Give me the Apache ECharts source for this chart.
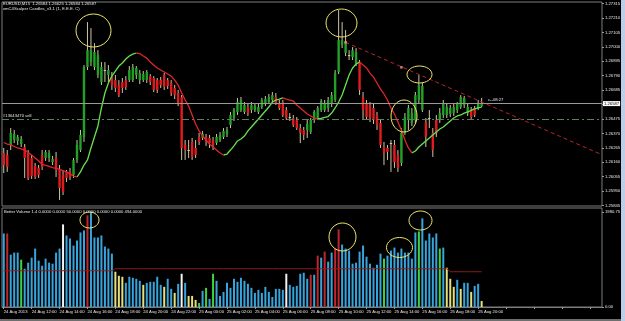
<!DOCTYPE html>
<html>
<head>
<meta charset="utf-8">
<title>EURUSD,M15</title>
<script src="https://cdn.jsdelivr.net/npm/echarts@6.0.0/dist/echarts.min.js"></script>
<style>
  html, body { margin: 0; padding: 0; background: #000; }
  #chart { width: 625px; height: 321px; }
</style>
</head>
<body>
<div id="chart"></div>
<script>
// 15 minute bars, 24 Aug 10:00 .. 25 Aug 20:15
const opens = [
  1.26228, 1.26213, 1.26286, 1.26322, 1.26315, 1.26293, 1.26271, 1.26228, 1.26191, 1.26133,
  1.26119, 1.26213, 1.26191, 1.26191, 1.26162, 1.26191, 1.26104, 1.26068, 1.26090, 1.26090,
  1.26068, 1.26177, 1.26249, 1.26344, 1.26853, 1.26889, 1.26853, 1.26795, 1.26744, 1.26831,
  1.26795, 1.26780, 1.26758, 1.26722, 1.26744, 1.26758, 1.26758, 1.26758, 1.26795, 1.26758,
  1.26758, 1.26758, 1.26787, 1.26773, 1.26758, 1.26758, 1.26795, 1.26758, 1.26737, 1.26700,
  1.26664, 1.26635, 1.26286, 1.26249, 1.26308, 1.26264, 1.26344, 1.26337, 1.26344, 1.26337,
  1.26322, 1.26300, 1.26322, 1.26344, 1.26366, 1.26431, 1.26482, 1.26526, 1.26540, 1.26526,
  1.26562, 1.26540, 1.26540, 1.26526, 1.26562, 1.26591, 1.26598, 1.26613, 1.26635, 1.26591,
  1.26598, 1.26540, 1.26489, 1.26482, 1.26468, 1.26409, 1.26395, 1.26395, 1.26380, 1.26468,
  1.26482, 1.26540, 1.26540, 1.26555, 1.26584, 1.26613, 1.26817, 1.27013, 1.26955, 1.26940,
  1.26926, 1.26882, 1.26882, 1.26635, 1.26591, 1.26577, 1.26555, 1.26504, 1.26446, 1.26271,
  1.26264, 1.26300, 1.26286, 1.26213, 1.26155, 1.26373, 1.26468, 1.26446, 1.26468, 1.26613,
  1.26540, 1.26453, 1.26482, 1.26373, 1.26468, 1.26468, 1.26504, 1.26504, 1.26511, 1.26518,
  1.26540, 1.26562, 1.26577, 1.26518, 1.26540, 1.26555, 1.26555, 1.26569
]
const highs = [
  1.26264, 1.26249, 1.26409, 1.26395, 1.26359, 1.26351, 1.26293, 1.26249, 1.26213, 1.26155,
  1.26140, 1.26249, 1.26249, 1.26249, 1.26206, 1.26235, 1.26140, 1.26104, 1.26104, 1.26119,
  1.26191, 1.26322, 1.26395, 1.26867, 1.27180, 1.27136, 1.27027, 1.26976, 1.26889, 1.26889,
  1.26867, 1.26817, 1.26795, 1.26758, 1.26773, 1.26787, 1.26860, 1.26875, 1.26860, 1.26831,
  1.26824, 1.26831, 1.26802, 1.26787, 1.26773, 1.26780, 1.26809, 1.26773, 1.26758, 1.26722,
  1.26686, 1.26649, 1.26322, 1.26322, 1.26337, 1.26322, 1.26373, 1.26388, 1.26366, 1.26359,
  1.26344, 1.26366, 1.26380, 1.26409, 1.26417, 1.26526, 1.26555, 1.26628, 1.26635, 1.26598,
  1.26584, 1.26598, 1.26591, 1.26584, 1.26628, 1.26642, 1.26657, 1.26671, 1.26664, 1.26613,
  1.26613, 1.26562, 1.26518, 1.26504, 1.26489, 1.26439, 1.26417, 1.26468, 1.26482, 1.26540,
  1.26569, 1.26620, 1.26613, 1.26635, 1.26671, 1.26831, 1.27267, 1.27180, 1.27122, 1.26976,
  1.26998, 1.26991, 1.26904, 1.26671, 1.26613, 1.26598, 1.26584, 1.26526, 1.26468, 1.26308,
  1.26286, 1.26322, 1.26322, 1.26249, 1.26409, 1.26518, 1.26577, 1.26555, 1.26671, 1.26795,
  1.26737, 1.26482, 1.26540, 1.26409, 1.26504, 1.26555, 1.26613, 1.26584, 1.26577, 1.26584,
  1.26598, 1.26649, 1.26642, 1.26584, 1.26562, 1.26569, 1.26613, 1.26628
]
const lows = [
  1.26082, 1.26090, 1.26249, 1.26300, 1.26286, 1.26271, 1.26046, 1.26031, 1.26039, 1.26039,
  1.26046, 1.26104, 1.26170, 1.26162, 1.26140, 1.26053, 1.25886, 1.25922, 1.26017, 1.26031,
  1.26046, 1.26155, 1.26235, 1.26308, 1.26831, 1.26860, 1.26831, 1.26773, 1.26722, 1.26744,
  1.26744, 1.26686, 1.26671, 1.26635, 1.26664, 1.26686, 1.26744, 1.26744, 1.26766, 1.26729,
  1.26744, 1.26737, 1.26722, 1.26671, 1.26664, 1.26700, 1.26686, 1.26693, 1.26642, 1.26620,
  1.26569, 1.26177, 1.26177, 1.26191, 1.26177, 1.26191, 1.26286, 1.26322, 1.26279, 1.26264,
  1.26249, 1.26286, 1.26308, 1.26329, 1.26344, 1.26409, 1.26460, 1.26504, 1.26526, 1.26511,
  1.26497, 1.26518, 1.26526, 1.26511, 1.26548, 1.26569, 1.26584, 1.26598, 1.26577, 1.26540,
  1.26489, 1.26468, 1.26460, 1.26417, 1.26395, 1.26300, 1.26322, 1.26337, 1.26366, 1.26446,
  1.26468, 1.26526, 1.26526, 1.26526, 1.26562, 1.26598, 1.26802, 1.26991, 1.26933, 1.26904,
  1.26904, 1.26860, 1.26649, 1.26468, 1.26468, 1.26453, 1.26439, 1.26395, 1.26264, 1.26140,
  1.26177, 1.26090, 1.26119, 1.26090, 1.26133, 1.26359, 1.26395, 1.26424, 1.26446, 1.26591,
  1.26526, 1.26271, 1.26409, 1.26199, 1.26344, 1.26446, 1.26482, 1.26482, 1.26489, 1.26497,
  1.26518, 1.26548, 1.26555, 1.26497, 1.26475, 1.26489, 1.26540, 1.26562
]
const closes = [
  1.26140, 1.26126, 1.26373, 1.26366, 1.26344, 1.26329, 1.26191, 1.26046, 1.26060, 1.26053,
  1.26068, 1.26126, 1.26235, 1.26228, 1.26184, 1.26104, 1.25973, 1.25944, 1.26046, 1.26053,
  1.26177, 1.26286, 1.26359, 1.26853, 1.26976, 1.26976, 1.26962, 1.26940, 1.26853, 1.26824,
  1.26831, 1.26722, 1.26700, 1.26649, 1.26700, 1.26708, 1.26831, 1.26853, 1.26846, 1.26809,
  1.26802, 1.26817, 1.26744, 1.26686, 1.26686, 1.26722, 1.26708, 1.26715, 1.26664, 1.26649,
  1.26591, 1.26264, 1.26249, 1.26242, 1.26199, 1.26213, 1.26308, 1.26366, 1.26308, 1.26300,
  1.26286, 1.26344, 1.26359, 1.26388, 1.26395, 1.26504, 1.26540, 1.26598, 1.26613, 1.26577,
  1.26518, 1.26577, 1.26569, 1.26562, 1.26613, 1.26620, 1.26635, 1.26649, 1.26591, 1.26555,
  1.26504, 1.26482, 1.26482, 1.26431, 1.26409, 1.26373, 1.26359, 1.26439, 1.26468, 1.26526,
  1.26555, 1.26606, 1.26584, 1.26613, 1.26649, 1.26809, 1.27049, 1.27049, 1.27035, 1.26933,
  1.26976, 1.26962, 1.26686, 1.26540, 1.26489, 1.26482, 1.26468, 1.26431, 1.26286, 1.26228,
  1.26235, 1.26293, 1.26162, 1.26119, 1.26373, 1.26489, 1.26555, 1.26518, 1.26649, 1.26722,
  1.26715, 1.26344, 1.26475, 1.26249, 1.26373, 1.26518, 1.26584, 1.26562, 1.26555, 1.26562,
  1.26584, 1.26635, 1.26628, 1.26562, 1.26489, 1.26504, 1.26591, 1.26587
]
// smoothed trend line of the scalper indicator
const trendLine = [
  1.26304, 1.26293, 1.26286, 1.26275, 1.26264, 1.26257, 1.26249, 1.26231, 1.26213, 1.26191,
  1.26170, 1.26144, 1.26137, 1.26130, 1.26122, 1.26115, 1.26108, 1.26100, 1.26090, 1.26075,
  1.26060, 1.26053, 1.26090, 1.26140, 1.26177, 1.26264, 1.26344, 1.26424, 1.26555, 1.26664,
  1.26737, 1.26787, 1.26824, 1.26860, 1.26882, 1.26911, 1.26933, 1.26947, 1.26955, 1.26951,
  1.26933, 1.26918, 1.26889, 1.26867, 1.26846, 1.26831, 1.26817, 1.26802, 1.26787, 1.26758,
  1.26722, 1.26664, 1.26613, 1.26569, 1.26504, 1.26439, 1.26388, 1.26351, 1.26322, 1.26293,
  1.26271, 1.26249, 1.26228, 1.26213, 1.26220, 1.26249, 1.26279, 1.26315, 1.26329, 1.26351,
  1.26388, 1.26417, 1.26446, 1.26475, 1.26504, 1.26533, 1.26562, 1.26598, 1.26613, 1.26620,
  1.26628, 1.26620, 1.26613, 1.26606, 1.26577, 1.26555, 1.26533, 1.26511, 1.26497, 1.26482,
  1.26475, 1.26479, 1.26486, 1.26493, 1.26518, 1.26555, 1.26598, 1.26649, 1.26722, 1.26795,
  1.26846, 1.26875, 1.26889, 1.26867, 1.26846, 1.26809, 1.26780, 1.26737, 1.26693, 1.26657,
  1.26613, 1.26555, 1.26511, 1.26453, 1.26395, 1.26322, 1.26264, 1.26228, 1.26242, 1.26271,
  1.26293, 1.26315, 1.26337, 1.26359, 1.26380, 1.26402, 1.26417, 1.26439, 1.26460, 1.26482,
  1.26497, 1.26504, 1.26518, 1.26526, 1.26537, 1.26548, 1.26555, 1.26562
]
const volumes = [
  1533, 1533, 1092, 1134, 1134, 987, 798, 924, 1029, 1218,
  966, 861, 1008, 924, 903, 1134, 1218, 1722, 1491, 1428,
  1281, 1386, 1554, 1596, 1911, 1974, 1449, 1449, 1491, 1260,
  1218, 1113, 735, 651, 630, 504, 630, 609, 588, 546,
  462, 504, 525, 525, 630, 462, 420, 588, 378, 294,
  483, 693, 504, 231, 231, 147, 84, 336, 399, 168,
  693, 546, 231, 315, 504, 399, 588, 525, 609, 546,
  483, 399, 294, 357, 294, 420, 315, 210, 378, 378,
  357, 693, 462, 420, 441, 693, 714, 588, 672, 672,
  1071, 1029, 1155, 945, 1134, 1218, 1617, 1302, 1218, 1176,
  903, 924, 1155, 1281, 1050, 903, 819, 882, 1113, 1008,
  1071, 1176, 1239, 1134, 1218, 1134, 1134, 1008, 1554, 1575,
  1848, 1386, 1533, 1449, 1533, 1218, 1239, 819, 588, 420,
  567, 378, 504, 504, 315, 441, 483, 126
]
// b = normal, r = climax, g = low volume churn, y = low volume, w = churn
const volumeKinds = [
  'b','r','b','b','b','g','b','b','b','b',
  'b','b','b','b','b','b','b','w','b','b',
  'b','b','b','b','r','b','b','b','b','b',
  'b','b','y','y','y','b','b','b','b','b',
  'y','b','b','b','b','b','y','b','b','y',
  'b','w','b','y','y','y','g','b','g','b',
  'g','b','b','b','b','b','b','b','b','b',
  'b','b','b','b','b','b','b','b','b','b',
  'b','w','b','b','b','b','b','b','r','b',
  'r','b','r','b','b','r','r','b','b','b',
  'b','b','b','b','b','b','b','b','b','g',
  'b','b','b','b','b','b','b','b','b','g',
  'b','b','b','b','b','g','b','y','y','y',
  'b','y','b','b','y','b','b','y'
]
const volumeAverage = [
  756, 756, 756, 756, 756, 756, 756, 756, 756, 756,
  756, 756, 756, 756, 756, 756, 756, 756, 756, 756,
  756, 756, 756, 756, 756, 756, 756, 756, 756, 756,
  756, 756, 798, 798, 798, 798, 798, 798, 798, 798,
  798, 798, 798, 798, 798, 798, 798, 798, 798, 798,
  798, 798, 798, 798, 798, 798, 798, 798, 798, 798,
  798, 798, 798, 798, 798, 798, 798, 798, 798, 798,
  798, 798, 798, 798, 798, 798, 798, 798, 798, 798,
  798, 798, 798, 798, 798, 798, 798, 798, 798, 798,
  798, 798, 798, 798, 798, 798, 798, 798, 798, 798,
  798, 798, 798, 798, 798, 798, 798, 798, 798, 798,
  798, 798, 798, 798, 798, 798, 798, 798, 798, 798,
  798, 798, 798, 798, 798, 798, 798, 798, 735, 735,
  735, 735, 735, 735, 735, 735, 735, 735
]
// one label every 8 bars (2 hours)
const timeLabels = [
  '24 Aug 2013', '24 Aug 12:00', '24 Aug 14:00', '24 Aug 16:00', '24 Aug 18:00',
  '24 Aug 20:00', '24 Aug 22:00', '25 Aug 00:00', '25 Aug 02:00', '25 Aug 04:00',
  '25 Aug 06:00', '25 Aug 08:00', '25 Aug 10:00', '25 Aug 12:00', '25 Aug 14:00',
  '25 Aug 16:00', '25 Aug 18:00', '25 Aug 20:00'
]
const priceTicks = [
  1.25845, 1.25950, 1.26055, 1.26160, 1.26265, 1.26370, 1.26475, 1.26580,
  1.26685, 1.26790, 1.26895, 1.27000, 1.27105, 1.27210, 1.27315
]
const volumeTicks = [0, 1980.75]
const bidPrice = 1.26587
const orderPrice = 1.26475
// [bar index, price] for the drawn resistance line and its anchors
const resistanceLine = [[98, 1.27033], [171, 1.26220]]
const resistanceAnchors = [[98, 1.27033], [114, 1.26851]]

const slots = 172 // bars plus the empty shift area on the right
const categories = Array.from({ length: slots }, (_, i) => i)

const kindColors = { b: '#38a4dc', r: '#c0262b', g: '#3fd23f', y: '#e6df7a', w: '#f2f2f2' }
const font = 'Liberation Sans'

const chart = echarts.init(document.getElementById('chart'))

const candleData = opens.map((o, i) => [i, o, closes[i], lows[i], highs[i]])

const renderCandle = (params, api) => {
    const i = api.value(0)
    const o = api.value(1), c = api.value(2)
    const po = api.coord([i, o])
    const pc = api.coord([i, c])
    const pl = api.coord([i, Math.min(api.value(3), o, c)])
    const ph = api.coord([i, Math.max(api.value(4), o, c)])
    const w = 2.4
    let fill = c >= o ? '#22a126' : '#e21b1e'
    if (Math.abs(c - o) < 0.00008) fill = '#d4d0b2'
    const top = Math.min(po[1], pc[1])
    const h = Math.max(Math.abs(po[1] - pc[1]), 1)
    return {
        type: 'group',
        children: [
            {
                type: 'line',
                shape: { x1: po[0], y1: ph[1], x2: po[0], y2: pl[1] },
                style: { stroke: '#cdc6a4', lineWidth: 1 }
            },
            {
                type: 'rect',
                shape: { x: po[0] - w / 2, y: top, width: w, height: h },
                style: { fill: fill }
            }
        ]
    }
}

// split the trend line into rising (green) and falling (red) pieces
const trendUp = trendLine.map(() => null)
const trendDown = trendLine.map(() => null)
for (let i = 1; i < trendLine.length; i++) {
    const target = trendLine[i] >= trendLine[i - 1] ? trendUp : trendDown
    target[i - 1] = trendLine[i - 1]
    target[i] = trendLine[i]
}

const volumeData = volumes.map((v, i) => ({
    value: v,
    itemStyle: { color: kindColors[volumeKinds[i]] }
}))

const ellipse = (cx, cy, rx, ry) => ({
    type: 'ellipse',
    shape: { cx: cx, cy: cy, rx: rx, ry: ry },
    style: { fill: 'none', stroke: '#efe66a', lineWidth: 1 },
    z: 100
})
const label = (x, y, text) => ({
    type: 'text',
    left: x,
    top: y,
    style: { text: text, fill: '#e6e6e6', font: '4.2px ' + font },
    z: 100
})

const options = {
    backgroundColor: '#000',
    animation: false,
    textStyle: { fontFamily: font },
    grid: [
        { left: 2, right: 23, top: 2, height: 204, show: true, borderColor: '#7d7d7d', borderWidth: 1, outerBoundsMode: 'none' },
        { left: 2, right: 23, top: 208, height: 99, show: true, borderColor: '#7d7d7d', borderWidth: 1, outerBoundsMode: 'none' }
    ],
    xAxis: [
        {
            type: 'category', gridIndex: 0, data: categories, boundaryGap: true,
            axisLine: { show: false }, axisTick: { show: false }, axisLabel: { show: false }, splitLine: { show: false }
        },
        {
            type: 'category', gridIndex: 1, data: categories, boundaryGap: true,
            axisLine: { show: true, lineStyle: { color: '#7d7d7d' } },
            axisTick: { show: true, interval: 7, alignWithLabel: true, length: 2, lineStyle: { color: '#9a9a9a' } },
            axisLabel: {
                show: true, interval: 7, align: 'left', margin: 3,
                fontSize: 4.2, color: '#e6e6e6', fontFamily: font,
                formatter: (v, idx) => timeLabels[idx / 8] || ''
            },
            splitLine: { show: false }
        }
    ],
    yAxis: [
        {
            type: 'value', gridIndex: 0, position: 'right', min: 1.25842, max: 1.27326, scale: true,
            splitLine: { show: false }, axisLine: { show: false },
            axisTick: { show: true, customValues: priceTicks, length: 2, lineStyle: { color: '#9a9a9a' } },
            axisLabel: {
                show: true, customValues: priceTicks, margin: 3, fontSize: 4.2, color: '#e6e6e6',
                fontFamily: font, formatter: (v) => v.toFixed(5)
            }
        },
        {
            type: 'value', gridIndex: 1, position: 'right', min: 0, max: 2064,
            splitLine: { show: false }, axisLine: { show: false },
            axisTick: { show: true, customValues: volumeTicks, length: 2, lineStyle: { color: '#9a9a9a' } },
            axisLabel: {
                show: true, customValues: volumeTicks, margin: 3, fontSize: 4.2, color: '#e6e6e6',
                fontFamily: font, formatter: (v) => v.toFixed(2)
            }
        }
    ],
    series: [
        {
            name: 'candles',
            type: 'custom',
            xAxisIndex: 0, yAxisIndex: 0,
            renderItem: renderCandle,
            encode: { x: 0, y: [1, 2, 3, 4] },
            data: candleData,
            clip: true,
            z: 3
        },
        {
            name: 'trend up',
            type: 'line',
            xAxisIndex: 0, yAxisIndex: 0,
            data: trendUp,
            showSymbol: false,
            connectNulls: false,
            lineStyle: { color: '#68e14c', width: 1.3 },
            z: 4,
            markLine: {
                silent: true,
                precision: 5,
                symbol: ['none', 'none'],
                data: [
                    {
                        yAxis: bidPrice,
                        lineStyle: { color: '#9a9a9a', type: 'solid', width: 1 },
                        label: {
                            show: true, position: 'end', distance: 1,
                            formatter: bidPrice.toFixed(5),
                            backgroundColor: '#ffffff', color: '#000', fontSize: 4.2,
                            padding: [1, 1, 0, 1], fontFamily: font
                        }
                    },
                    {
                        yAxis: orderPrice,
                        lineStyle: { color: '#5f805f', type: [7, 3, 2, 3], width: 1 },
                        label: { show: false }
                    },
                    [
                        { coord: resistanceLine[0], lineStyle: { color: '#b3262a', type: [4, 3], width: 1 }, label: { show: false } },
                        { coord: resistanceLine[1] }
                    ]
                ]
            }
        },
        {
            name: 'trend down',
            type: 'line',
            xAxisIndex: 0, yAxisIndex: 0,
            data: trendDown,
            showSymbol: false,
            connectNulls: false,
            lineStyle: { color: '#e0262a', width: 1.3 },
            z: 4
        },
        {
            name: 'anchors',
            type: 'scatter',
            xAxisIndex: 0, yAxisIndex: 0,
            data: resistanceAnchors,
            symbol: 'rect',
            symbolSize: 2.5,
            itemStyle: { color: '#ff9a9a' },
            z: 5
        },
        {
            name: 'Better Volume',
            type: 'bar',
            xAxisIndex: 1, yAxisIndex: 1,
            data: volumeData,
            barWidth: 2
        },
        {
            name: 'volume average',
            type: 'line',
            xAxisIndex: 1, yAxisIndex: 1,
            data: volumeAverage,
            showSymbol: false,
            lineStyle: { color: '#8e1c1c', width: 1 },
            z: 4
        }
    ],
    graphic: [
        label(3, 2, 'EURUSD,M15  1.26584 1.26625 1.26584 1.26587'),
        label(3, 7, 'xmC4Scalper Candles_v3.1 (1, E.E.E. C)'),
        label(3, 114, '#13643470 sell'),
        label(488, 98, 'c--08:27'),
        label(4, 210, 'Better Volume 1.4 0.0000 0.0000 50.0000 0.0000 0.0000 0.0000 494.0000'),
        // hand drawn highlights
        ellipse(93.5, 30.5, 17.5, 16.5),
        ellipse(341.5, 23, 15.5, 14),
        ellipse(419.5, 74.5, 12.5, 8.5),
        ellipse(404, 116, 13, 16),
        ellipse(89.5, 220, 9.5, 8),
        ellipse(342.5, 237, 13.5, 14),
        ellipse(399.5, 247.5, 13, 10),
        ellipse(420.5, 220.5, 11.5, 9.5),
        {
            type: 'rect', left: 621, top: 0,
            shape: { width: 4, height: 321 },
            style: { fill: '#bccfe6' }, z: 100
        },
        {
            type: 'rect', left: 0, top: 319,
            shape: { width: 621, height: 2 },
            style: { fill: '#6e6e6e' }, z: 100
        }
    ]
}

chart.setOption(options)
</script>
</body>
</html>
